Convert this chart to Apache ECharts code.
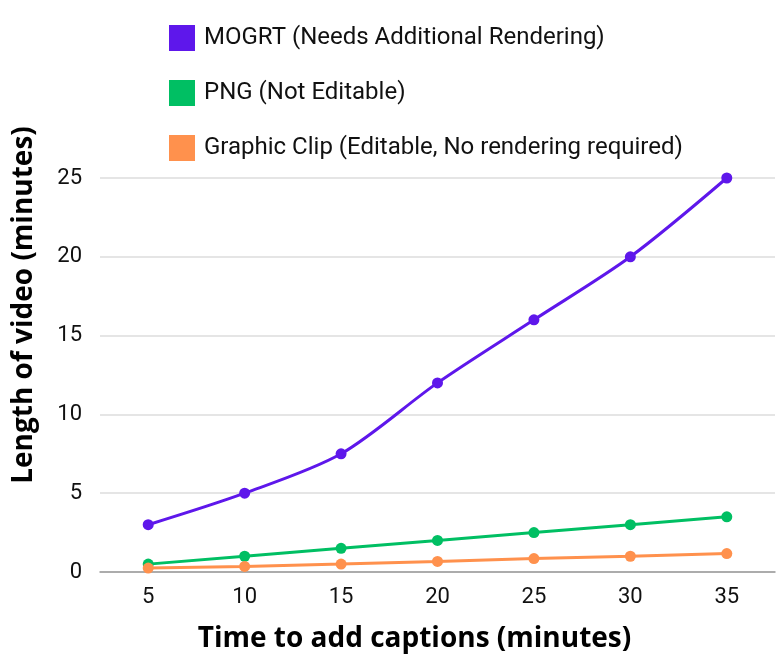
<!DOCTYPE html>
<html>
<head>
<meta charset="utf-8">
<script src="https://cdn.jsdelivr.net/npm/echarts@6/dist/echarts.min.js"></script>
<style>
  html, body { margin: 0; padding: 0; background: #fff; }
  #chart { width: 782px; height: 660px; }
</style>
</head>
<body>
<div id="chart"></div>
<script>
const categories = ['5', '10', '15', '20', '25', '30', '35']
const mogrt = [3, 5, 7.5, 12, 16, 20, 25]
const png = [0.5, 1, 1.5, 2, 2.5, 3, 3.5]
const graphicClip = [0.25, 0.35, 0.5, 0.67, 0.85, 1.0, 1.17]
const yTicks = [0, 5, 10, 15, 20, 25]

const fontFamily = 'Roboto, "Noto Sans", sans-serif'
const titleFont = '"Open Sans", "Noto Sans", sans-serif'

const chart = echarts.init(document.getElementById('chart'))

function lineSeries(name, data, color, smooth) {
  return {
    name,
    type: 'line',
    data,
    smooth,
    symbol: 'circle',
    symbolSize: 11,
    lineStyle: { width: 3, color },
    itemStyle: { color },
    animation: false
  }
}

chart.setOption({
  backgroundColor: '#fff',
  legend: {
    orient: 'vertical',
    left: 164,
    top: 20,
    itemWidth: 26,
    itemHeight: 26,
    itemGap: 29,
    icon: 'rect',
    textStyle: { fontFamily, fontSize: 24, color: '#111', padding: [0, 0, 0, 4] },
    data: ['MOGRT (Needs Additional Rendering)', 'PNG (Not Editable)', 'Graphic Clip (Editable, No rendering required)']
  },
  grid: { left: 100, right: 7, top: 178, bottom: 88, containLabel: false, outerBoundsMode: 'none' },
  xAxis: {
    type: 'category',
    data: categories,
    boundaryGap: true,
    name: 'Time to add captions (minutes)',
    nameLocation: 'middle',
    nameGap: 53,
    // the title sits a little left of the plot's centre
    nameTextStyle: { fontFamily: titleFont, fontSize: 28, fontWeight: 'bold', color: '#000', padding: [0, 46, 0, 0] },
    axisLine: { lineStyle: { color: '#999', width: 1.5 } },
    axisTick: { show: false },
    axisLabel: { fontFamily, fontSize: 22, color: '#111', margin: 14 }
  },
  yAxis: {
    type: 'value',
    min: yTicks[0],
    max: yTicks[yTicks.length - 1],
    interval: 5,
    name: 'Length of video (minutes)',
    nameLocation: 'middle',
    nameGap: 62,
    // shifted upward, as in the original
    nameTextStyle: { fontFamily: titleFont, fontSize: 28, fontWeight: 'bold', color: '#000', padding: [0, 0, 0, 140] },
    axisLine: { show: false },
    axisTick: { show: false },
    axisLabel: { fontFamily, fontSize: 22, color: '#111', margin: 18 },
    splitLine: { lineStyle: { color: '#ddd', width: 1.5 } }
  },
  series: [
    lineSeries('MOGRT (Needs Additional Rendering)', mogrt, '#5e17eb', 0.3),
    lineSeries('PNG (Not Editable)', png, '#00bf63', false),
    lineSeries('Graphic Clip (Editable, No rendering required)', graphicClip, '#ff914d', false)
  ]
})
</script>
</body>
</html>
